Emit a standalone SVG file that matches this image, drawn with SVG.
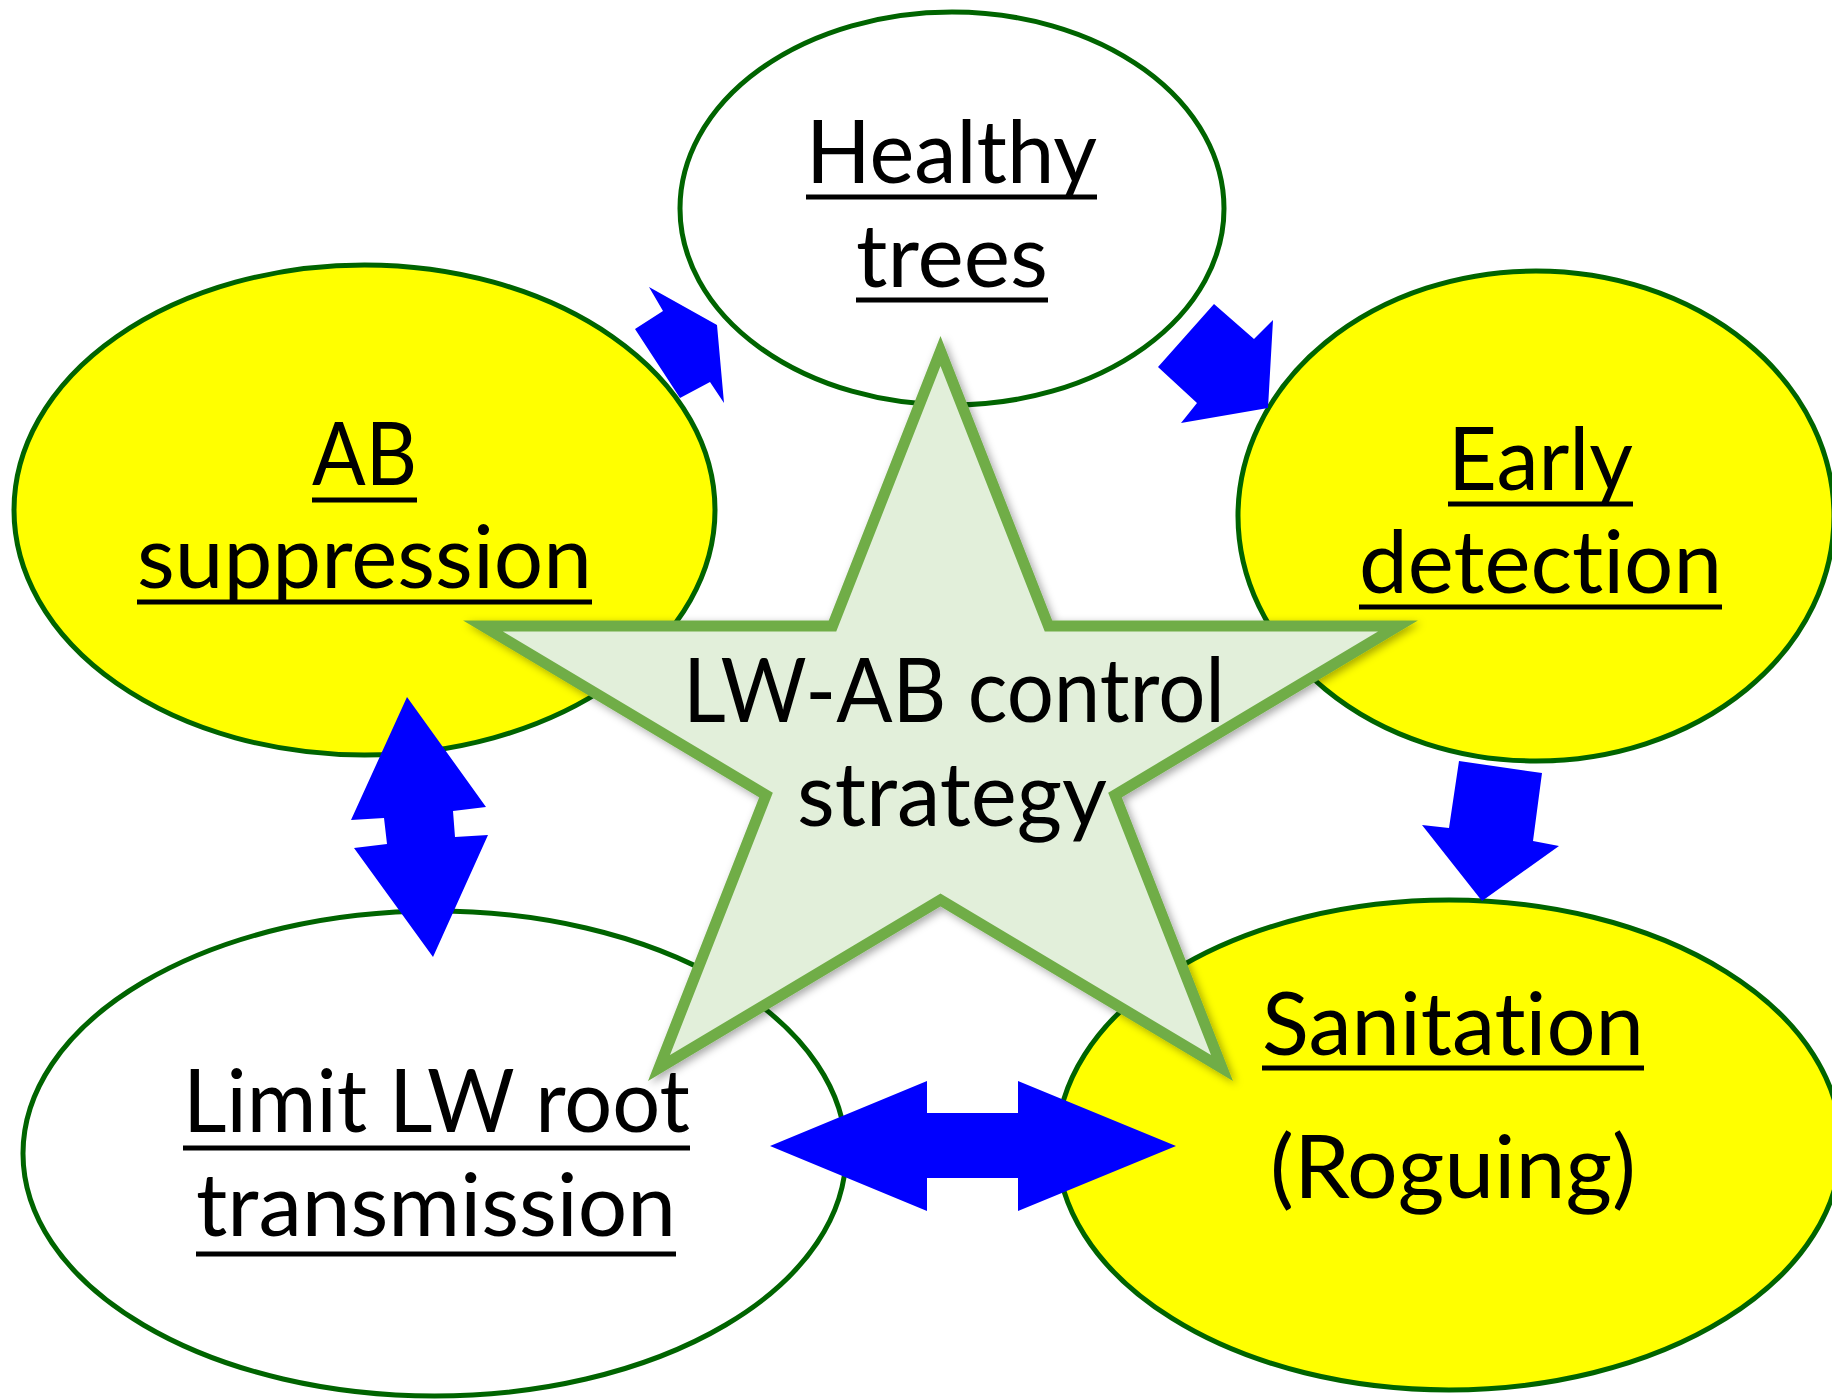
<svg xmlns="http://www.w3.org/2000/svg" width="1832" height="1399" viewBox="0 0 1832 1399">
<style>
.node{stroke:#006400;stroke-width:5}
.yellow{fill:#FFFF00}
.white{fill:#FFFFFF}
.lbl{font-family:Lato,"Open Sans","Liberation Sans",sans-serif;font-size:87px;fill:#000;text-anchor:middle;font-variant-ligatures:none;font-feature-settings:"liga" 0,"clig" 0}
.star-lbl{font-size:89px}
.ul{stroke:#000;stroke-width:5}
.arrow{fill:#0000FF;stroke:none}
</style>
<defs>
<filter id="shadow" x="-10%" y="-10%" width="120%" height="120%">
<feDropShadow dx="3" dy="3" stdDeviation="4" flood-color="#000" flood-opacity="0.35"/>
</filter>
</defs>
<rect width="1832" height="1399" fill="#FFFFFF"/>

<g id="node-healthy">
<ellipse class="node white" cx="952" cy="208.5" rx="272" ry="196.5"/>
<text class="lbl" x="951.5" y="183" textLength="291" lengthAdjust="spacingAndGlyphs">Healthy</text>
<line class="ul" x1="806" y1="197" x2="1097" y2="197"/>
<text class="lbl" x="952" y="287" textLength="192" lengthAdjust="spacingAndGlyphs">trees</text>
<line class="ul" x1="856" y1="300" x2="1048" y2="300"/>
</g>

<g id="node-ab">
<ellipse class="node yellow" cx="364.5" cy="510" rx="350.5" ry="245"/>
<text class="lbl" x="364.5" y="485" textLength="105" lengthAdjust="spacingAndGlyphs">AB</text>
<line class="ul" x1="312" y1="500" x2="417" y2="500"/>
<text class="lbl" x="364.5" y="588" textLength="455" lengthAdjust="spacingAndGlyphs">suppression</text>
<line class="ul" x1="137" y1="602" x2="592" y2="602"/>
</g>

<g id="node-early">
<ellipse class="node yellow" cx="1536" cy="516" rx="298" ry="245"/>
<text class="lbl" x="1540.5" y="490" textLength="185" lengthAdjust="spacingAndGlyphs">Early</text>
<line class="ul" x1="1448" y1="504" x2="1633" y2="504"/>
<text class="lbl" x="1540.5" y="593" textLength="363" lengthAdjust="spacingAndGlyphs">detection</text>
<line class="ul" x1="1359" y1="607" x2="1722" y2="607"/>
</g>

<g id="node-limit">
<ellipse class="node white" cx="434.5" cy="1153.5" rx="411.5" ry="242.5"/>
<text class="lbl" x="436.5" y="1132" textLength="507" lengthAdjust="spacingAndGlyphs">Limit LW root</text>
<line class="ul" x1="183" y1="1148" x2="690" y2="1148"/>
<text class="lbl" x="436" y="1236" textLength="480" lengthAdjust="spacingAndGlyphs">transmission</text>
<line class="ul" x1="196" y1="1254" x2="676" y2="1254"/>
</g>

<g id="node-sanitation">
<ellipse class="node yellow" cx="1449" cy="1145" rx="392" ry="245"/>
<text class="lbl" x="1453" y="1055" textLength="382" lengthAdjust="spacingAndGlyphs">Sanitation</text>
<line class="ul" x1="1262" y1="1068" x2="1644" y2="1068"/>
<text class="lbl" x="1453" y="1198" textLength="366" lengthAdjust="spacingAndGlyphs">(Roguing)</text>
</g>

<g id="connectors">
<polygon class="arrow" points="649,287 717,325 724,403 710,382 680,398 635,329 663,311"/>
<polygon class="arrow" points="1214,304 1254,339 1273,320 1268,408 1181,423 1197,403 1158,367"/>
<polygon class="arrow" points="407,697 486,807 453,811 455,837 488,835 433,957 354,848 387,844 384,818 351,820"/>
<polygon class="arrow" points="1459,761 1542,773 1533,841 1559,846 1482,901 1422,825 1449,828"/>
<polygon class="arrow" points="770,1146 927,1081 927,1113 1018,1113 1018,1081 1176,1146 1018,1211 1018,1178 927,1178 927,1211"/>
</g>

<g id="node-star">
<polygon points="940.5,351 1048.5,626 1398,626 1115,795 1222,1068 940.5,900 659,1068 766,795 483,626 832.5,626" fill="#E2EFDA" stroke="#70AD47" stroke-width="11" stroke-linejoin="miter" filter="url(#shadow)"/>
<text class="lbl star-lbl" x="954" y="722" textLength="542" lengthAdjust="spacingAndGlyphs">LW-AB control</text>
<text class="lbl star-lbl" x="952" y="826" textLength="310" lengthAdjust="spacingAndGlyphs">strategy</text>
</g>
</svg>
